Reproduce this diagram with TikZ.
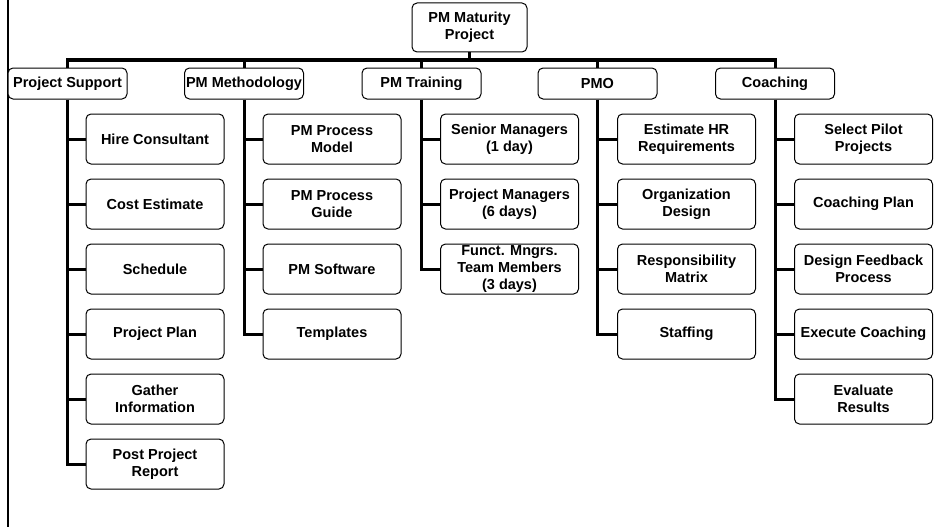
\documentclass[tikz,border=0pt]{standalone}
\usepackage{fontspec}
\setmainfont{Liberation Sans}
\begin{document}
\begin{tikzpicture}[x=1pt,y=-1pt,
  box/.style={draw, line width=1pt, rounded corners=5pt, fill=white, align=center,
    font=\fontsize{14.5}{16.7}\selectfont\bfseries, inner sep=0pt},
  topbox/.style={box, minimum width=115pt, minimum height=49pt},
  headbox/.style={box, minimum width=119pt, minimum height=31pt},
  taskbox/.style={box, minimum width=138pt, minimum height=50pt},
  link/.style={line width=3pt},
  frame/.style={line width=2pt}]
\useasboundingbox (0,0) rectangle (952,527);

% left frame line
\coordinate (ftop) at (8,0);
\coordinate (fbot) at (8,527);
\draw[frame] (ftop) -- (fbot);

% root
\node[topbox] (root) at (469.5,27.5) {PM Maturity\\Project};
\coordinate (bar) at (0,60);

% level 1
\node[headbox] (ps) at (67.5,83.5) {Project Support};
\node[headbox] (pm) at (244,83.5) {PM Methodology};
\node[headbox] (tr) at (421.5,83.5) {PM Training};
\node[headbox] (po) at (597.5,83.5) {PMO};
\node[headbox] (co) at (775,83.5) {Coaching};

% Project Support tasks
\node[taskbox] (ps1) at (155,139) {Hire Consultant};
\node[taskbox] (ps2) at (155,204) {Cost Estimate};
\node[taskbox] (ps3) at (155,269) {Schedule};
\node[taskbox] (ps4) at (155,334) {Project Plan};
\node[taskbox] (ps5) at (155,399) {Gather\\Information};
\node[taskbox] (ps6) at (155,464) {Post Project\\Report};

% PM Methodology tasks
\node[taskbox] (pm1) at (332,139) {PM Process\\Model};
\node[taskbox] (pm2) at (332,204) {PM Process\\Guide};
\node[taskbox] (pm3) at (332,269) {PM Software};
\node[taskbox] (pm4) at (332,334) {Templates};

% PM Training tasks
\node[taskbox] (tr1) at (509.5,139) {Senior Managers\\(1 day)};
\node[taskbox] (tr2) at (509.5,204) {Project Managers\\(6 days)};
\node[taskbox] (tr3) at (509.5,269) {Funct. Mngrs.\\Team Members\\(3 days)};

% PMO tasks
\node[taskbox] (po1) at (686.5,139) {Estimate HR\\Requirements};
\node[taskbox] (po2) at (686.5,204) {Organization\\Design};
\node[taskbox] (po3) at (686.5,269) {Responsibility\\Matrix};
\node[taskbox] (po4) at (686.5,334) {Staffing};

% Coaching tasks
\node[taskbox] (co1) at (863.5,139) {Select Pilot\\Projects};
\node[taskbox] (co2) at (863.5,204) {Coaching Plan};
\node[taskbox] (co3) at (863.5,269) {Design Feedback\\Process};
\node[taskbox] (co4) at (863.5,334) {Execute Coaching};
\node[taskbox] (co5) at (863.5,399) {Evaluate\\Results};

% root to level 1
\draw[link] (root.south) -- (root.south |- bar);
\draw[link] (ps.north) -- (ps.north |- bar) -- (co.north |- bar) -- (co.north);
\draw[link] (pm.north |- bar) -- (pm.north);
\draw[link] (tr.north |- bar) -- (tr.north);
\draw[link] (po.north |- bar) -- (po.north);

% trunks with tasks
\draw[link] (ps.south) |- (ps6.west);
\foreach \t in {ps1,ps2,ps3,ps4,ps5} \draw[link] (ps.south |- \t.west) -- (\t.west);
\draw[link] (pm.south) |- (pm4.west);
\foreach \t in {pm1,pm2,pm3} \draw[link] (pm.south |- \t.west) -- (\t.west);
\draw[link] (tr.south) |- (tr3.west);
\foreach \t in {tr1,tr2} \draw[link] (tr.south |- \t.west) -- (\t.west);
\draw[link] (po.south) |- (po4.west);
\foreach \t in {po1,po2,po3} \draw[link] (po.south |- \t.west) -- (\t.west);
\draw[link] (co.south) |- (co5.west);
\foreach \t in {co1,co2,co3,co4} \draw[link] (co.south |- \t.west) -- (\t.west);
\end{tikzpicture}
\end{document}
